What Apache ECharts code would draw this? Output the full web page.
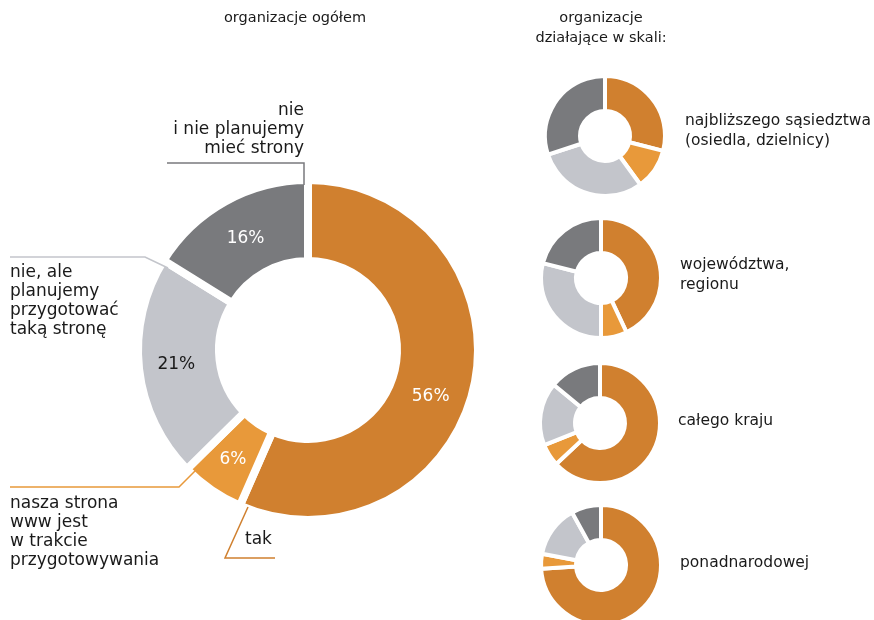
<!DOCTYPE html>
<html>
<head>
<meta charset="utf-8">
<script src="https://cdn.jsdelivr.net/npm/echarts@6/dist/echarts.min.js"></script>
<style>
  html, body { margin: 0; padding: 0; background: #fff; }
  #main { width: 874px; height: 620px; }
</style>
</head>
<body>
<div id="main"></div>
<script>
// answers, clockwise from the top
var categories = ['tak', 'nasza strona www jest w trakcie przygotowywania', 'nie, ale planujemy przygotować taką stronę', 'nie i nie planujemy mieć strony'];
var labelTexts = ['tak', 'nasza strona\nwww jest\nw trakcie\nprzygotowywania', 'nie, ale\nplanujemy\nprzygotować\ntaką stronę', 'nie\ni nie planujemy\nmieć strony'];
var overall = [56, 6, 21, 16];

// organizacje działające w skali...
var scaleNames = ['najbliższego sąsiedztwa\n(osiedla, dzielnicy)', 'województwa,\nregionu', 'całego kraju', 'ponadnarodowej'];
var neighbourhood = [29, 11, 30, 30];
var region = [43, 7, 29, 21];
var country = [63, 6, 17, 14];
var international = [74, 4, 14, 8];
var scaleValues = [neighbourhood, region, country, international];

var colors = ['#d0802f', '#e8993a', '#c3c5cb', '#797a7d'];
var pctColors = ['#fff', '#fff', '#1a1a1a', '#fff'];
var pctOffsets = [[-7, 19], [0, 0], [0, 0], [2, 4]];
var font = '"DejaVu Sans", sans-serif';

var smallCenters = [[605, 136], [601, 278], [600, 423], [601, 565]];
var smallLabelPos = [[685, 111], [680, 255], [678, 421], [680, 563]];

// where the outside labels of the big ring go, with their leader lines
var mainLabels = [
  {x: 245, y: 540, align: 'left', verticalAlign: 'middle', line: [[248, 507], [225, 558], [275, 558]]},
  {x: 10, y: 494, align: 'left', verticalAlign: 'top', line: [[196, 470], [179, 487], [10, 487]]},
  {x: 10, y: 263, align: 'left', verticalAlign: 'top', line: [[168, 268], [145, 257], [10, 257]]},
  {x: 304, y: 101, align: 'right', verticalAlign: 'top', line: [[304, 185], [304, 163], [167, 163]]}
];

var series = [];

series.push({
  type: 'pie',
  silent: true,
  center: [308, 350],
  radius: [89, 170],
  startAngle: 90,
  itemStyle: {borderColor: '#fff', borderWidth: 8},
  label: {show: true, position: 'inside', fontFamily: font, fontSize: 17, formatter: function (p) { return p.value + '%'; }},
  labelLine: {show: false},
  data: overall.map(function (v, i) {
    return {value: v, name: categories[i], itemStyle: {color: colors[i]}, label: {color: pctColors[i], offset: pctOffsets[i]}};
  })
});

// same ring again, invisible, only to carry the outside labels
series.push({
  type: 'pie',
  silent: true,
  center: [308, 350],
  radius: [89, 170],
  startAngle: 90,
  z: 5,
  itemStyle: {color: 'rgba(0,0,0,0)', borderWidth: 0},
  label: {
    show: true, position: 'outside', fontFamily: font, fontSize: 17, lineHeight: 19, color: '#1a1a1a',
    overflow: 'none', width: 300,
    formatter: function (p) { return labelTexts[p.dataIndex]; }
  },
  labelLine: {show: true, lineStyle: {width: 1.5}},
  labelLayout: function (p) {
    var m = mainLabels[p.dataIndex];
    return {x: m.x, y: m.y, align: m.align, verticalAlign: m.verticalAlign, labelLinePoints: m.line};
  },
  data: overall.map(function (v, i) {
    return {value: v, name: categories[i], labelLine: {lineStyle: {color: colors[i]}}};
  })
});

scaleValues.forEach(function (vals, k) {
  series.push({
    type: 'pie',
    silent: true,
    center: smallCenters[k],
    radius: [25, 60],
    startAngle: 90,
    itemStyle: {borderColor: '#fff', borderWidth: 4},
    label: {show: false},
    labelLine: {show: false},
    data: vals.map(function (v, i) {
      return {value: v, name: categories[i], itemStyle: {color: colors[i]}};
    })
  });
});

var graphics = [
  {type: 'text', x: 295, y: 18, style: {text: 'organizacje ogółem', fill: '#1a1a1a', font: '14.5px ' + font, align: 'center', verticalAlign: 'middle'}},
  {type: 'text', x: 601, y: 8, style: {text: 'organizacje\ndziałające w skali:', fill: '#1a1a1a', font: '14.5px ' + font, lineHeight: 20, align: 'center', verticalAlign: 'top'}}
];
scaleNames.forEach(function (name, k) {
  var lines = name.split('\n').length;
  graphics.push({
    type: 'text', x: smallLabelPos[k][0], y: smallLabelPos[k][1] - (lines === 1 ? 10 : 0),
    style: {text: name, fill: '#1a1a1a', font: '15.5px ' + font, lineHeight: 20, align: 'left', verticalAlign: 'top'}
  });
});

echarts.init(document.getElementById('main')).setOption({
  animation: false,
  backgroundColor: '#fff',
  graphic: graphics,
  series: series
});
</script>
</body>
</html>
